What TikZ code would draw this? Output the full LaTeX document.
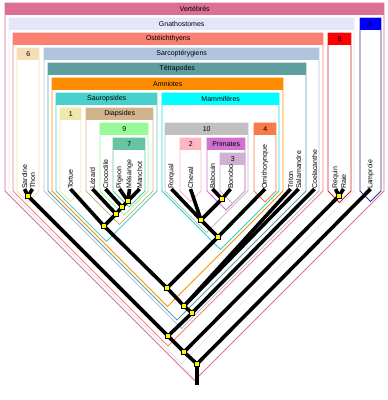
\documentclass[tikz,border=0pt]{standalone}
\usepackage{fontspec}
\newfontfamily\diagfont{Liberation Sans}
\definecolor{cVert}{HTML}{DB7093}
\definecolor{cGnath}{HTML}{E6E6FA}
\definecolor{cOst}{HTML}{FA8072}
\definecolor{cSix}{HTML}{F5DEB3}
\definecolor{cSarco}{HTML}{B0C4DE}
\definecolor{cTetra}{HTML}{5F9EA0}
\definecolor{cAmn}{HTML}{FF8C00}
\definecolor{cSaur}{HTML}{48D1CC}
\definecolor{cMamm}{HTML}{00FFFF}
\definecolor{cMammL}{HTML}{20D8D8}
\definecolor{cOne}{HTML}{EEE8AA}
\definecolor{cDiap}{HTML}{D2B48C}
\definecolor{cNine}{HTML}{98FB98}
\definecolor{cSeven}{HTML}{66C4A0}
\definecolor{cTen}{HTML}{C0C0C0}
\definecolor{cTwo}{HTML}{FFB6C1}
\definecolor{cPrim}{HTML}{D070D0}
\definecolor{cThree}{HTML}{D0B0D0}
\definecolor{cFour}{HTML}{F87A48}
\definecolor{cEight}{HTML}{FF0000}
\definecolor{cEightL}{HTML}{C82828}
\definecolor{cFive}{HTML}{0000FF}
\definecolor{cFiveL}{HTML}{333399}
\tikzset{
  hdr/.style={inner sep=0pt, minimum height=11.5pt, anchor=north west,
    font=\diagfont\fontsize{7}{8}\selectfont, text=black},
  leaf/.style={rotate=90, anchor=west, inner sep=0pt,
    font=\diagfont\fontsize{7}{8}\selectfont, text=black},
  branch/.style={line width=3.6pt, black},
  jn/.style={rectangle, draw=black, fill=yellow, minimum size=5pt,
    inner sep=0pt, line width=0.6pt},
  outl/.style={line width=0.9pt}
}
% name, x1, x2, top, fill, outline, label
\newcommand\cladebox[7]{%
  \draw[outl, draw=#6] (#2,#4) -- (#3,#4) -- (#3,191) --
    ({(#2+#3)/2},{191+(#3-#2)/2}) -- (#2,191) -- cycle;
  \node[hdr, fill=#5, minimum width={(#3-#2)*1pt}] (#1) at (#2,#4) {#7};
}
\begin{document}
\begin{tikzpicture}[x=1pt,y=-1pt]
\useasboundingbox[fill=white] (0,0) rectangle (388,400);
% clade boxes
\cladebox{hVert}{5}{384}{3}{cVert}{cVert}{Vertébrés}
\cladebox{hGnath}{9}{354}{18}{cGnath}{cGnath}{Gnathostomes}
\cladebox{hFive}{360}{381}{18}{cFive}{cFiveL}{5}
\cladebox{hOst}{13}{323}{33}{cOst}{cOst}{Ostéichthyens}
\cladebox{hEight}{328}{351}{33}{cEight}{cEightL}{8}
\cladebox{hSix}{17}{39}{48}{cSix}{cSix}{6}
\cladebox{hSarco}{44}{319}{48}{cSarco}{cSarco}{Sarcoptérygiens}
\cladebox{hTetra}{48}{306}{63}{cTetra}{cTetra}{Tétrapodes}
\cladebox{hAmn}{52}{283}{78}{cAmn}{cAmn}{Amniotes}
\cladebox{hSaur}{56}{157}{93}{cSaur}{cSaur}{Sauropsides}
\cladebox{hMamm}{162}{279}{93}{cMamm}{cMammL}{Mammifères}
\cladebox{hOne}{60}{81}{108}{cOne}{cOne}{1}
\cladebox{hDiap}{86}{153}{108}{cDiap}{cDiap}{Diapsides}
\cladebox{hNine}{100}{148}{123}{cNine}{cNine}{9}
\cladebox{hTen}{165}{248}{123}{cTen}{cTen}{10}
\cladebox{hFour}{254}{276}{123}{cFour}{cFour}{4}
\cladebox{hSeven}{113}{145}{138}{cSeven}{cSeven}{7}
\cladebox{hTwo}{180}{201}{138}{cTwo}{cTwo}{2}
\cladebox{hPrim}{207}{245}{138}{cPrim}{cPrim}{Primates}
\cladebox{hThree}{220}{245}{153}{cThree}{cThree}{3}
% leaves
\node[leaf] (tSardine) at (24.5,189) {Sardine};
\node[leaf] (tThon) at (32.5,189) {Thon};
\node[leaf] (tTortue) at (70.5,189) {Tortue};
\node[leaf] (tLezard) at (92.5,189) {Lézard};
\node[leaf] (tCroco) at (105.5,189) {Crocodile};
\node[leaf] (tPigeon) at (119.5,189) {Pigeon};
\node[leaf] (tMesange) at (129.5,189) {Mésange};
\node[leaf] (tManchot) at (139.5,189) {Manchot};
\node[leaf] (tRorqual) at (171.5,189) {Rorqual};
\node[leaf] (tCheval) at (190.5,189) {Cheval};
\node[leaf] (tBabouin) at (212.5,189) {Babouin};
\node[leaf] (tBonobo) at (230.5,189) {Bonobo};
\node[leaf] (tOrni) at (265,189) {Ornithorynque};
\node[leaf] (tTriton) at (290.5,189) {Triton};
\node[leaf] (tSala) at (298.5,189) {Salamandre};
\node[leaf] (tCoela) at (314.5,189) {Coelacanthe};
\node[leaf] (tRequin) at (335.5,189) {Requin};
\node[leaf] (tRaie) at (343.5,189) {Raie};
\node[leaf] (tLamp) at (370.5,189) {Lamproie};
% internal nodes (positions)
\coordinate (pST) at (28,196);
\coordinate (pBirds) at (128,201);
\coordinate (pNine) at (122,207);
\coordinate (pDiap) at (116,214);
\coordinate (pSaur) at (104,226);
\coordinate (pPrim) at (222,199);
\coordinate (pTen) at (201,220);
\coordinate (pMamm) at (218,237);
\coordinate (pAmn) at (167,288);
\coordinate (pTetra) at (184,306);
\coordinate (pSarco) at (192,313);
\coordinate (pOst) at (168,336);
\coordinate (pRR) at (339,196);
\coordinate (pGnath) at (184,352);
\coordinate (pRoot) at (197,364);
\coordinate (rootEnd) at (197,385);
% branches
\draw[branch] (tSardine.west) -- (pST);
\draw[branch] (tThon.west) -- (pST);
\draw[branch] (tPigeon.west) -- (pBirds);
\draw[branch] (tMesange.west) -- (pBirds);
\draw[branch] (tManchot.west) -- (pBirds);
\draw[branch] (tCroco.west) -- (pNine);
\draw[branch] (pBirds) -- (pNine);
\draw[branch] (tLezard.west) -- (pDiap);
\draw[branch] (pNine) -- (pDiap);
\draw[branch] (tTortue.west) -- (pSaur);
\draw[branch] (pDiap) -- (pSaur);
\draw[branch] (tBabouin.west) -- (pPrim);
\draw[branch] (tBonobo.west) -- (pPrim);
\draw[branch] (tRorqual.west) -- (pTen);
\draw[branch] (tCheval.west) -- (pTen);
\draw[branch] (pPrim) -- (pTen);
\draw[branch] (pTen) -- (pMamm);
\draw[branch] (tOrni.west) -- (pMamm);
\draw[branch] (pSaur) -- (pAmn);
\draw[branch] (pMamm) -- (pAmn);
\draw[branch] (pAmn) -- (pTetra);
\draw[branch] (tTriton.west) -- (pTetra);
\draw[branch] (tSala.west) -- (pTetra);
\draw[branch] (pTetra) -- (pSarco);
\draw[branch] (tCoela.west) -- (pSarco);
\draw[branch] (pSarco) -- (pOst);
\draw[branch] (pST) -- (pOst);
\draw[branch] (tRequin.west) -- (pRR);
\draw[branch] (tRaie.west) -- (pRR);
\draw[branch] (pOst) -- (pGnath);
\draw[branch] (pRR) -- (pGnath);
\draw[branch] (pGnath) -- (pRoot);
\draw[branch] (tLamp.west) -- (pRoot);
\draw[branch] (pRoot) -- (rootEnd);
% junction markers
\foreach \p in {pST,pBirds,pNine,pDiap,pSaur,pPrim,pTen,pMamm,pAmn,pTetra,pSarco,pOst,pRR,pGnath,pRoot}
  \node[jn] (j\p) at (\p) {};
\end{tikzpicture}
\end{document}
